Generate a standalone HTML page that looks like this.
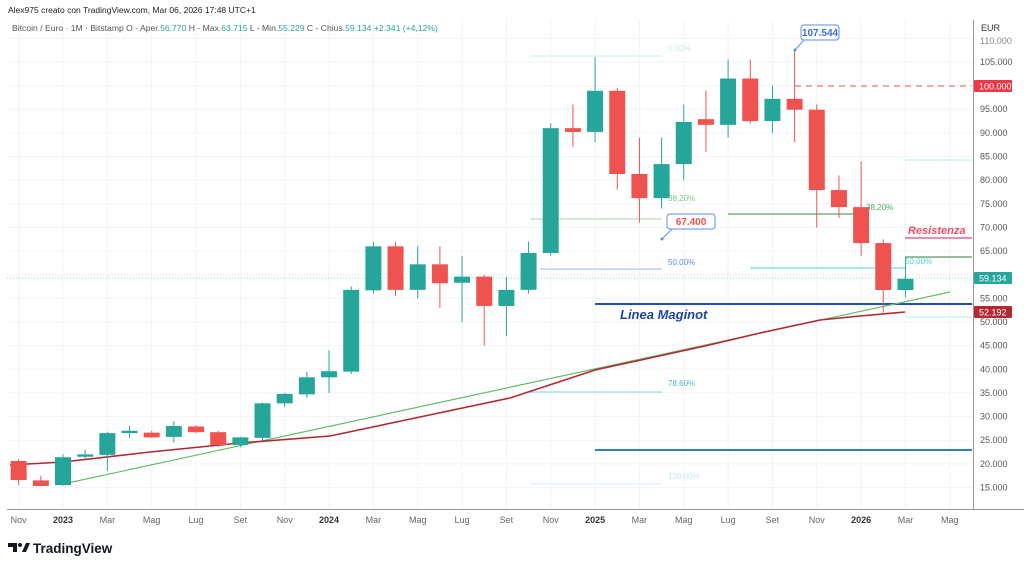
<!DOCTYPE html>
<html><head><meta charset="utf-8"><style>
body{margin:0;background:#fff;width:1024px;height:568px;overflow:hidden;font-family:"Liberation Sans",sans-serif}
svg{display:block}
</style></head><body>
<svg id="s" width="1024" height="568" xmlns="http://www.w3.org/2000/svg" font-family="Liberation Sans, sans-serif"></svg>
<script>
const s=document.getElementById('s');let h='';
const Y=v=>322-(v-50000)/5000*23.64;
const X=m=>63+22.17*m;
for(let v=15000;v<=110000;v+=5000){h+=`<line x1="7" x2="973" y1="${Y(v)}" y2="${Y(v)}" stroke="#f0f3fa"/>`;}
const labs=[[-2,'Nov'],[0,'2023',1],[2,'Mar'],[4,'Mag'],[6,'Lug'],[8,'Set'],[10,'Nov'],[12,'2024',1],[14,'Mar'],[16,'Mag'],[18,'Lug'],[20,'Set'],[22,'Nov'],[24,'2025',1],[26,'Mar'],[28,'Mag'],[30,'Lug'],[32,'Set'],[34,'Nov'],[36,'2026',1],[38,'Mar'],[40,'Mag']];
labs.forEach(l=>{const x=X(l[0]);h+=`<line x1="${x}" x2="${x}" y1="20" y2="509" stroke="#f0f3fa"/><text x="${x}" y="523" font-size="9" text-anchor="middle" fill="${l[2]?'#333':'#666'}" font-weight="${l[2]?'bold':'normal'}">${l[1]}</text>`;});
h+=`<line x1="973.5" x2="973.5" y1="20" y2="509" stroke="#999"/><line x1="7" x2="1024" y1="509.5" y2="509.5" stroke="#999"/>`;
for(let v=15000;v<=105000;v+=5000){if(v==100000||v==60000)continue;h+=`<text x="980" y="${Y(v)+3}" font-size="9" fill="#555">${(v/1000).toFixed(3)}</text>`;}
h+=`<text x="980" y="44" font-size="9" fill="#888">110.000</text><text x="981" y="31" font-size="9" fill="#333">EUR</text>`;
h+=`<line x1="7" x2="973" y1="278" y2="278" stroke="#8fd3c8" stroke-dasharray="1,2"/>`;
const fl=(x1,x2,y,c,w)=>h+=`<line x1="${x1}" x2="${x2}" y1="${y}" y2="${y}" stroke="${c}" stroke-width="${w||1}"/>`;
const tx=(x,y,t,c,sz,ex)=>h+=`<text x="${x}" y="${y}" font-size="${sz||8}" fill="${c}" ${ex||''}>${t}</text>`;
fl(530,662,56,'#c9ece8');tx(668,51,'0,00%','#c9ece8');
fl(530,662,219,'#a5d6a7');tx(668,201,'38,20%','#81c784');
fl(540,662,269,'#90b4f0');tx(668,265,'50,00%','#5b8def');
fl(530,662,392,'#81d4e0');tx(668,386,'78,60%','#4fb3c8');
fl(530,662,484,'#d5eef2');tx(668,479,'100,00%','#c9e6ec');
fl(728,862,214,'#388e3c');tx(866,210,'38,20%','#4caf50');
fl(750,905,268,'#4dd0e1');tx(905,264,'50,00%','#4dd0e1');
fl(905,972,160,'#b2ebf2');fl(905,972,257,'#2e7d32');fl(905,972,317,'#b2ebf2');
fl(905,972,238,'#f06292',1.5);tx(908,234,'Resistenza','#ec4d6a',11,'font-style="italic" font-weight="bold"');
h+=`<line x1="795" x2="972" y1="86" y2="86" stroke="#ef5350" stroke-dasharray="6,5"/>`;
fl(595,972,304,'#1e4fc1',2);tx(620,319,'Linea Maginot','#1e44a8',13,'font-style="italic" font-weight="bold"');
fl(595,972,450,'#2a86b0',2);
h+=`<line x1="63" y1="484" x2="950" y2="292" stroke="#66bb6a" stroke-width="1.2"/>`;
h+=`<polyline fill="none" stroke="#b22833" stroke-width="1.6" points="10,465 63,462 150,452 240,443 330,436 420,417 510,398 595,370 650,358 705,346 760,333 820,320 860,316 905,312"/>`;
const d=[[20600,21000,15500,16580],[16500,17500,15300,15300],[15500,22000,15400,21400],[21500,23000,21000,22000],[21900,26800,18500,26500],[26500,28000,25500,27000],[26600,27000,25500,25600],[25700,29000,24500,28000],[27900,28200,26500,26700],[26700,27000,23500,24000],[24000,25700,23500,25600],[25500,33000,25000,32800],[32800,35000,32000,34800],[34700,39500,34000,38300],[38300,44000,35000,39600],[39500,57500,39000,56800],[56700,67000,56000,66000],[66000,67000,55500,56800],[56800,66000,55000,62200],[62200,66000,53000,58200],[58300,64000,50000,59600],[59600,60000,45000,53400],[53400,59500,47000,56800],[56800,67000,56000,64600],[64600,92000,64000,91000],[91000,96000,87000,90200],[90200,106000,88000,98900],[98900,99500,78000,81300],[81300,89000,71000,76200],[76200,89000,74000,83400],[83400,96000,80000,92300],[92900,99000,86000,91700],[91700,105500,89000,101500],[101500,105500,92000,92500],[92500,100000,90000,97200],[97200,107544,88000,94900],[94900,96000,70000,77900],[77900,81000,72000,74300],[74300,84000,64000,66700],[66700,67500,52000,56770],[56770,63715,55229,59134]];
d.forEach((c,i)=>{const x=X(i-2),[o,hi,lo,cl]=c,col=cl>=o?'#26a69a':'#ef5350';
const t=Y(Math.max(o,cl)),b=Y(Math.min(o,cl));
h+=`<line x1="${x}" x2="${x}" y1="${Y(hi)}" y2="${Y(lo)}" stroke="${col}"/><rect x="${x-8}" y="${t}" width="16" height="${Math.max(1.5,b-t)}" fill="${col}"/>`;});
h+=`<line x1="795" y1="50" x2="804" y2="40" stroke="#5b8def"/><circle cx="795" cy="50" r="1.5" fill="#5b8def"/><rect x="801" y="25" width="38" height="15" rx="3" fill="#fff" stroke="#5b8def"/><text x="820" y="36" font-size="10" font-weight="bold" fill="#3b6fd8" text-anchor="middle">107.544</text>`;
h+=`<line x1="662" y1="239" x2="672" y2="229" stroke="#5b8def"/><circle cx="662" cy="239" r="1.5" fill="#5b8def"/><rect x="667" y="214" width="48" height="15" rx="3" fill="#fff" stroke="#5b8def"/><text x="691" y="225" font-size="10" font-weight="bold" fill="#ef5350" text-anchor="middle">67.400</text>`;
const tag=(y,t,c)=>h+=`<rect x="974" y="${y-6}" width="38" height="12" rx="1" fill="${c}"/><text x="979" y="${y+3.5}" font-size="9" fill="#fff">${t}</text>`;
tag(86,'100.000','#f23645');tag(278,'59.134','#26a69a');tag(312,'52.192','#b22833');
tx(8,13,'Alex975 creato con TradingView.com, Mar 06, 2026 17:48 UTC+1','#222',8.5);
h+=`<text x="12" y="31" font-size="8.6" fill="#555">Bitcoin / Euro · 1M · Bitstamp  O - Aper.<tspan fill="#26a69a">56.770</tspan>  H - Max.<tspan fill="#26a69a">63.715</tspan>  L - Min.<tspan fill="#26a69a">55.229</tspan>  C - Chius.<tspan fill="#26a69a">59.134</tspan>  <tspan fill="#26a69a">+2.341 (+4,12%)</tspan></text>`;
h+=`<path d="M8 543h9v9h-4v-5h-5z" fill="#131722"/><circle cx="20" cy="545" r="2" fill="#131722"/><path d="M22 552l4-9h4l-4 9z" fill="#131722"/>`;
tx(33,553,'TradingView','#131722',13.5,'font-weight="bold"');
s.innerHTML=h;
</script>
</body></html>
